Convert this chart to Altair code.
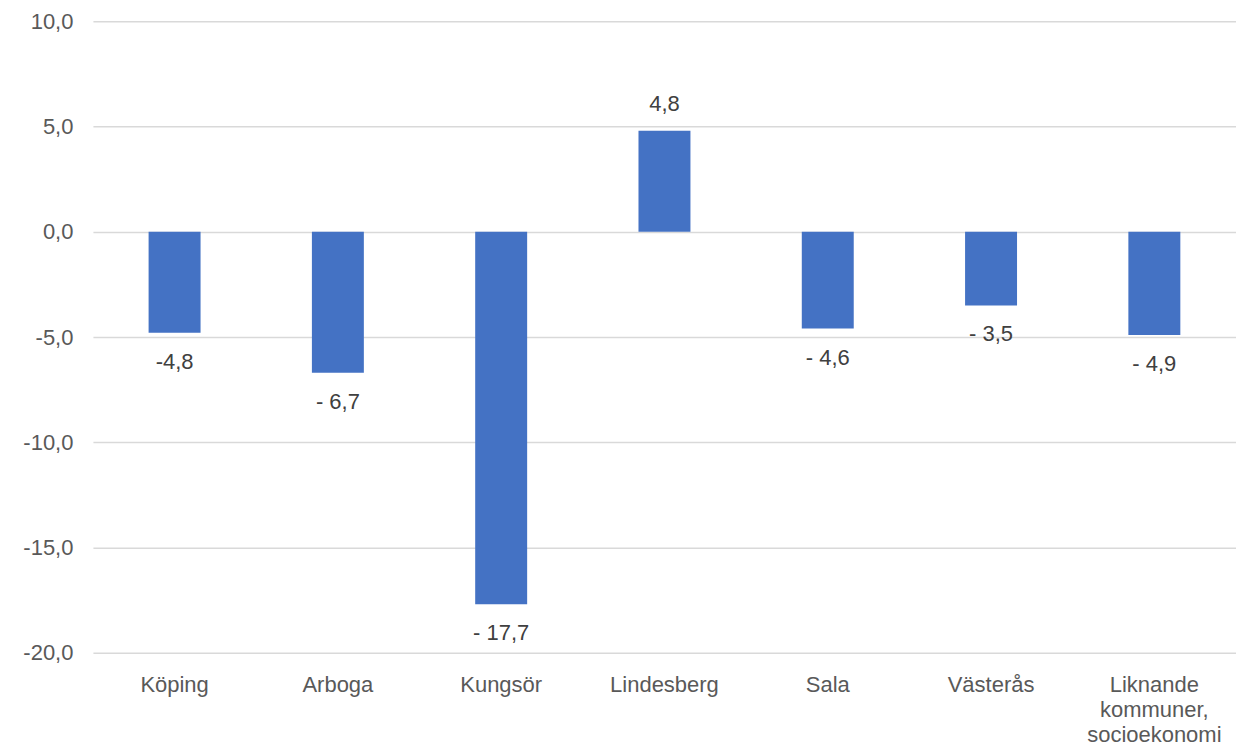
import altair as alt
import pandas as pd

categories = ["Köping", "Arboga", "Kungsör", "Lindesberg", "Sala", "Västerås",
              "Liknande|kommuner,|socioekonomi"]
values = [-4.8, -6.7, -17.7, 4.8, -4.6, -3.5, -4.9]
labels = ["-4,8", "- 6,7", "- 17,7", "4,8", "- 4,6", "- 3,5", "- 4,9"]

df = pd.DataFrame({"kat": categories, "v": values, "lab": labels})

FONT = "Liberation Sans"
FS = 22

x = alt.X("kat:N", sort=categories, title=None,
          scale=alt.Scale(paddingInner=0.0, paddingOuter=0.0),
          axis=alt.Axis(labelAngle=0, labelFontSize=FS, labelColor="#595959",
                        labelFont=FONT, domain=False, ticks=False, labelPadding=22,
                        labelExpr="split(datum.label, '|')", labelLineHeight=25,
                        labelBaseline="top"))
y = alt.Y("v:Q", title=None,
          scale=alt.Scale(domain=[-20, 10], nice=False, zero=False),
          axis=alt.Axis(values=[-20, -15, -10, -5, 0, 5, 10], labelFontSize=FS,
                        labelColor="#595959", labelFont=FONT, domain=False, ticks=False,
                        labelPadding=20, gridColor="#d9d9d9", gridWidth=1.5,
                        labelExpr="replace(replace(format(datum.value, '.1f'), '.', ','), '\u2212', '-')"))

base = alt.Chart(df)

bars = base.mark_bar(size=52, color="#4472C4").encode(x=x, y=y)

neg = base.transform_filter("datum.v < 0").mark_text(
    fontSize=FS, color="#404040", font=FONT, baseline="middle", dy=29
).encode(x=alt.X("kat:N", sort=categories), y="v:Q", text="lab:N")

pos = base.transform_filter("datum.v >= 0").mark_text(
    fontSize=FS, color="#404040", font=FONT, baseline="middle", dy=-27
).encode(x=alt.X("kat:N", sort=categories), y="v:Q", text="lab:N")

chart = alt.layer(bars, neg, pos).properties(
    width=1144, height=632,
    padding={"left": 14, "top": 2, "right": 0, "bottom": 0},
    autosize=alt.AutoSizeParams(type="pad"),
).configure_view(stroke=None)

chart.save("out.html", embed_options={"renderer": "svg", "actions": False})
